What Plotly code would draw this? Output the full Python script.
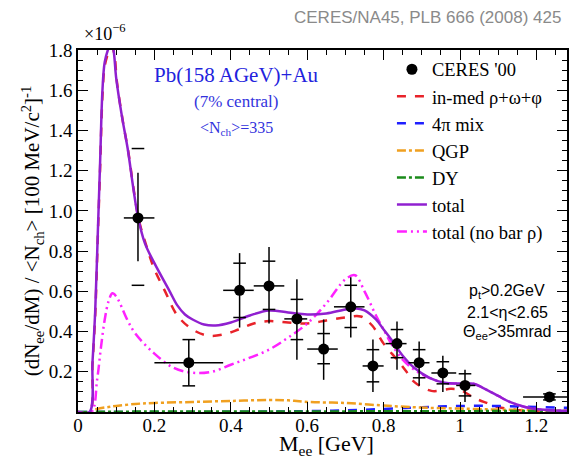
import plotly.graph_objects as go

# CERES '00 data points (units of 1e-6)
m_data = [0.157, 0.29, 0.423, 0.50, 0.573, 0.643, 0.714, 0.772, 0.835, 0.893, 0.955, 1.013, 1.234]
y_data = [0.965, 0.245, 0.605, 0.627, 0.463, 0.313, 0.523, 0.229, 0.34, 0.245, 0.194, 0.132, 0.075]
m_lo = [0.12, 0.20, 0.38, 0.46, 0.54, 0.60, 0.67, 0.745, 0.805, 0.865, 0.925, 0.99, 1.165]
m_hi = [0.20, 0.38, 0.46, 0.54, 0.60, 0.68, 0.75, 0.80, 0.86, 0.92, 0.99, 1.04, 1.30]
stat_lo = [0.75, 0.13, 0.42, 0.44, 0.26, 0.16, 0.37, 0.10, 0.21, 0.13, 0.10, 0.05, 0.06]
stat_hi = [1.19, 0.36, 0.79, 0.82, 0.66, 0.46, 0.67, 0.36, 0.45, 0.35, 0.28, 0.21, 0.09]
sys_lo = [0.63, 0.13, 0.47, 0.51, 0.36, 0.24, 0.42, 0.15, 0.27, 0.17, 0.14, 0.08, 0.06]
sys_hi = [1.31, 0.36, 0.74, 0.75, 0.56, 0.39, 0.63, 0.31, 0.41, 0.31, 0.25, 0.19, 0.09]

# model curves
m_tot = [0.0, 0.03, 0.038, 0.045, 0.052, 0.058, 0.064, 0.07, 0.08, 0.087, 0.093, 0.1, 0.115, 0.13,
         0.145, 0.157, 0.175, 0.2, 0.24, 0.26, 0.28, 0.3, 0.33, 0.36, 0.4, 0.45, 0.5, 0.55, 0.6,
         0.65, 0.7, 0.73, 0.75, 0.78, 0.8, 0.82, 0.85, 0.88, 0.92, 0.96, 1.0, 1.035, 1.07, 1.1,
         1.13, 1.17, 1.21, 1.25, 1.3]
total = [0.0, 0.0, 0.25, 0.5, 0.9, 1.25, 1.6, 1.74, 1.81, 1.84, 1.8, 1.66, 1.47, 1.31,
         1.11, 0.97, 0.84, 0.74, 0.6, 0.53, 0.485, 0.46, 0.435, 0.43, 0.445, 0.48, 0.505, 0.495, 0.485,
         0.49, 0.51, 0.515, 0.505, 0.46, 0.41, 0.36, 0.28, 0.22, 0.17, 0.145, 0.142, 0.14, 0.11, 0.08,
         0.05, 0.025, 0.012, 0.008, 0.005]

m_red = [0.0, 0.03, 0.038, 0.045, 0.052, 0.058, 0.064, 0.07, 0.08, 0.088, 0.095, 0.102, 0.117, 0.132,
         0.147, 0.16, 0.18, 0.2, 0.228, 0.26, 0.3, 0.34, 0.38, 0.42, 0.46, 0.5, 0.55, 0.6, 0.65,
         0.7, 0.74, 0.77, 0.8, 0.835, 0.86, 0.88, 0.925, 0.975, 1.0, 1.037, 1.07, 1.1, 1.15, 1.2, 1.3]
red = [0.0, 0.0, 0.24, 0.48, 0.88, 1.22, 1.57, 1.72, 1.79, 1.82, 1.78, 1.64, 1.45, 1.29,
       1.09, 0.95, 0.82, 0.71, 0.6, 0.48, 0.41, 0.38, 0.385, 0.41, 0.44, 0.452, 0.445, 0.44, 0.455,
       0.47, 0.475, 0.43, 0.34, 0.26, 0.2, 0.15, 0.105, 0.115, 0.11, 0.07, 0.045, 0.025, 0.01, 0.004, 0.002]

m_nobar = [0.0, 0.035, 0.05, 0.06, 0.07, 0.08, 0.09, 0.1, 0.11, 0.13, 0.15, 0.2, 0.25, 0.3,
           0.35, 0.4, 0.45, 0.5, 0.55, 0.6, 0.65, 0.7, 0.725, 0.75, 0.78, 0.8, 0.82, 0.85, 0.88,
           0.92, 0.96, 1.0, 1.035, 1.07, 1.1, 1.13, 1.17, 1.21, 1.25, 1.3]
nobar = [0.0, 0.0, 0.16, 0.32, 0.46, 0.55, 0.59, 0.575, 0.54, 0.455, 0.39, 0.29, 0.22, 0.195,
         0.2, 0.235, 0.27, 0.31, 0.37, 0.44, 0.54, 0.66, 0.68, 0.6, 0.48, 0.41, 0.34, 0.26, 0.21,
         0.17, 0.145, 0.142, 0.14, 0.11, 0.08, 0.05, 0.025, 0.012, 0.008, 0.005]

m_small = [0.0, 0.03, 0.05, 0.08, 0.1, 0.15, 0.2, 0.3, 0.4, 0.5, 0.55, 0.6, 0.7, 0.8, 0.9, 1.0, 1.1, 1.2, 1.3]
qgp = [0.0, 0.0, 0.015, 0.025, 0.03, 0.04, 0.045, 0.05, 0.055, 0.06, 0.058, 0.05, 0.045, 0.032, 0.022, 0.017, 0.012, 0.008, 0.006]
mix4pi = [0.0, 0.0, 0.0, 0.0, 0.0, 0.0, 0.0, 0.0, 0.001, 0.002, 0.003, 0.004, 0.008, 0.015, 0.024, 0.03, 0.03, 0.025, 0.02]
dy = [0.0, 0.0, 0.001, 0.001, 0.001, 0.002, 0.002, 0.002, 0.002, 0.003, 0.003, 0.003, 0.003, 0.004, 0.004, 0.004, 0.005, 0.005, 0.005]

serif = "Liberation Serif"
sans = "Liberation Sans"
fig = go.Figure()

curves = [
    (m_red, red, "in-med ρ+ω+φ", "#e8232a", "dash", 2),
    (m_small, mix4pi, "4π mix", "#1f1fff", "dash", 3),
    (m_small, qgp, "QGP", "#f0a020", "dashdot", 4),
    (m_small, dy, "DY", "#1a8a1a", "dashdot", 5),
    (m_nobar, nobar, "total (no bar ρ)", "#ff22ff", "10px,4px,2px,4px,2px,4px", 7),
    (m_tot, total, "total", "#9020d0", "solid", 6),
]
for xs, ys, name, col, dash, rank in curves:
    fig.add_trace(go.Scatter(x=xs, y=ys, mode="lines", name=name, line_shape="spline",
                             line=dict(color=col, width=2.5, dash=dash), legendrank=rank))

# systematic ticks
fig.add_trace(go.Scatter(x=m_data + m_data, y=sys_lo + sys_hi, mode="markers", showlegend=False,
                         marker=dict(symbol="line-ew", size=9, line=dict(color="black", width=1.5))))

fig.add_trace(go.Scatter(
    x=m_data, y=y_data, mode="markers", name="CERES '00", legendrank=1,
    marker=dict(color="black", size=11),
    error_x=dict(type="data", symmetric=False,
                 array=[h - m for h, m in zip(m_hi, m_data)],
                 arrayminus=[m - l for l, m in zip(m_lo, m_data)],
                 color="black", thickness=1.5, width=0),
    error_y=dict(type="data", symmetric=False,
                 array=[h - y for h, y in zip(stat_hi, y_data)],
                 arrayminus=[y - l for l, y in zip(stat_lo, y_data)],
                 color="black", thickness=1.5, width=0),
))

axis_common = dict(showline=True, linecolor="black", linewidth=1.5, mirror="ticks",
                   ticks="inside", ticklen=10, tickwidth=1.2, tickcolor="black",
                   showgrid=False, zeroline=False,
                   tickfont=dict(family=serif, size=19, color="black"),
                   minor=dict(ticks="inside", ticklen=5, tickwidth=1, tickcolor="black", dtick=0.05))

fig.update_xaxes(range=[0, 1.28], tickvals=[0, 0.2, 0.4, 0.6, 0.8, 1.0, 1.2],
                 ticktext=["0", "0.2", "0.4", "0.6", "0.8", "1", "1.2"],
                 ticklabelstandoff=-5, **axis_common)
fig.update_yaxes(range=[0, 1.8], tickvals=[0.2, 0.4, 0.6, 0.8, 1.0, 1.2, 1.4, 1.6, 1.8],
                 ticktext=["0.2", "0.4", "0.6", "0.8", "1.0", "1.2", "1.4", "1.6", "1.8"],
                 title=dict(text="(dN<sub>ee</sub>/dM) / &lt;N<sub>ch</sub>&gt; [100 MeV/c<sup>2</sup>]<sup>-1</sup>",
                            font=dict(family=serif, size=21, color="black"), standoff=3),
                 **axis_common)

annotations = [
    dict(text="CERES/NA45, PLB 666 (2008) 425", x=563, y=17, font=dict(family=sans, size=17, color="#8a8a8a"),
         xanchor="right"),
    dict(text="×10<sup>−6</sup>", x=82, y=33, font=dict(family=serif, size=18, color="black"), xanchor="left"),
    dict(text="Pb(158 AGeV)+Au", x=236, y=75, font=dict(family=serif, size=21, color="#2222dd"), xanchor="center"),
    dict(text="(7% central)", x=236, y=102, font=dict(family=serif, size=17, color="#3333dd"), xanchor="center"),
    dict(text="&lt;N<sub>ch</sub>&gt;=335", x=236, y=128, font=dict(family=serif, size=16, color="#3333dd"), xanchor="center"),
    dict(text="p<sub>t</sub>&gt;0.2GeV", x=507, y=291, font=dict(family=sans, size=16, color="black"), xanchor="center"),
    dict(text="2.1&lt;η&lt;2.65", x=507, y=312, font=dict(family=sans, size=16, color="black"), xanchor="center"),
    dict(text="Θ<sub>ee</sub>&gt;35mrad", x=507, y=332, font=dict(family=sans, size=16, color="black"), xanchor="center"),
    dict(text="M<sub>ee</sub> [GeV]", x=326, y=445, font=dict(family=serif, size=22, color="black"), xanchor="center"),
]
W, H = 570, 459
L, R, T, B = 78, 3, 50, 47
for a in annotations:
    a["x"] = (a["x"] - L) / (W - L - R)
    a["y"] = (H - B - a["y"]) / (H - T - B)
    fig.add_annotation(xref="paper", yref="paper", showarrow=False, yanchor="middle", **a)

fig.update_layout(
    width=W, height=H,
    margin=dict(l=L, r=R, t=T, b=B, autoexpand=False),
    plot_bgcolor="white", paper_bgcolor="white",
    legend=dict(x=0.642, y=0.998, xanchor="left", yanchor="top", bgcolor="rgba(0,0,0,0)",
                font=dict(family=serif, size=18.5, color="black"), tracegroupgap=0,
                itemwidth=30),
)

fig.write_html("out.html", post_script="document.body.style.margin='0';",
               config={"displayModeBar": False})
